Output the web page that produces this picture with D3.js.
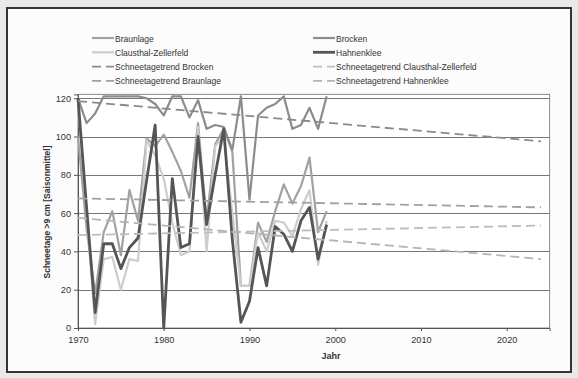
<!DOCTYPE html>
<html>
<head>
<meta charset="utf-8">
<script src="https://cdn.jsdelivr.net/npm/d3@7"></script>
<style>
  html, body { margin: 0; padding: 0; background: #e9e9e9; }
  svg { display: block; font-family: "Liberation Sans", Arial, sans-serif; }
</style>
</head>
<body>
<svg id="chart" width="578" height="378"></svg>
<script>
// Snow days above 9 cm, seasonal mean, 1970–1999
const years = d3.range(1970, 2000);

const braunlage = [100, 52, 18, 50, 61, 38, 72, 56, 99, 95, 101, 92, 82, 68, 107, 56, 96, 104, 92, 22,
                   22, 55, 45, 61, 75, 65, 74, 89, 50, 61];
const brocken   = [120, 107, 112, 121, 121, 121, 121, 121, 120, 117, 111, 121, 121, 110, 119, 104, 106, 105, 93, 121,
                   67, 111, 115, 117, 121, 104, 106, 115, 104, 121];
const clausthal = [118, 60, 2, 36, 37, 20, 36, 35, 98, 90, 78, 55, 38, 40, 105, 40, 95, 100, 60, 22,
                   22, 50, 40, 56, 55, 48, 62, 72, 33, 56];
const hahnenklee = [120, 63, 8, 44, 44, 31, 42, 47, 77, 106, 0, 78, 42, 44, 100, 54, 80, 104, 46, 3,
                    14, 42, 22, 53, 49, 40, 56, 63, 36, 54];

// Linear trend lines: value at start and end year
const trendYears = [1970, 2024];
const trendBrocken    = [118.5, 97.5];
const trendBraunlage  = [67.7, 63.0];
const trendClausthal  = [48.5, 53.5];
const trendHahnenklee = [57.5, 36.0];

const yTicks = [0, 20, 40, 60, 80, 100, 120];
const xTicks = [1970, 1980, 1990, 2000, 2010, 2020];

const series = [
  { name: "Braunlage", values: braunlage, color: "#a2a2a2", width: 2.2 },
  { name: "Brocken", values: brocken, color: "#8c8c8c", width: 2.2 },
  { name: "Clausthal-Zellerfeld", values: clausthal, color: "#cdcdcd", width: 2.2 },
  { name: "Hahnenklee", values: hahnenklee, color: "#555555", width: 2.8 }
];
const trends = [
  { name: "Schneetagetrend Brocken", values: trendBrocken, color: "#8a8a8a" },
  { name: "Schneetagetrend Braunlage", values: trendBraunlage, color: "#a0a0a0" },
  { name: "Schneetagetrend Clausthal-Zellerfeld", values: trendClausthal, color: "#bdbdbd" },
  { name: "Schneetagetrend Hahnenklee", values: trendHahnenklee, color: "#b4b4b4" }
];

const svg = d3.select("#chart");

// Chart frame
svg.append("rect").attr("x", 7).attr("y", 8).attr("width", 564).attr("height", 364)
  .attr("fill", "#fcfcfc").attr("stroke", "#333").attr("stroke-width", 2);

const x = d3.scaleLinear().domain([1970, 2025]).range([78, 549.6]);
const y = d3.scaleLinear().domain([0, 122]).range([328, 94.4]);

// Plot area
svg.append("rect").attr("x", x(1970)).attr("y", y(122))
  .attr("width", x(2025) - x(1970)).attr("height", y(0) - y(122))
  .attr("fill", "#fff").attr("stroke", "#8a8a8a").attr("stroke-width", 1);

// Horizontal gridlines
svg.append("g").selectAll("line").data(yTicks.filter(d => d > 0)).join("line")
  .attr("x1", x(1970)).attr("x2", x(2025))
  .attr("y1", d => Math.round(y(d)) + 0.5).attr("y2", d => Math.round(y(d)) + 0.5)
  .attr("stroke", "#777").attr("stroke-width", 1);

// Axes
const yAxis = d3.axisLeft(y).tickValues(yTicks).tickSize(4).tickPadding(3).tickFormat(d3.format("d"));
const gy = svg.append("g").attr("transform", `translate(${x(1970)},0)`).call(yAxis);
const xAxis = d3.axisBottom(x).tickValues(xTicks).tickSize(3).tickPadding(5).tickFormat(d3.format("d"));
const gx = svg.append("g").attr("transform", `translate(0,${y(0)})`).call(xAxis);
[gx, gy].forEach(g => {
  g.select(".domain").attr("stroke", "#555");
  g.selectAll(".tick line").attr("stroke", "#555");
  g.selectAll(".tick text").attr("fill", "#333").style("font-size", "9.2px")
    .style("font-family", "'Liberation Sans', Arial, sans-serif");
});

// Data lines
const line = d3.line().x((d, i) => x(years[i])).y(d => y(d));
svg.append("g").selectAll("path").data(series).join("path")
  .attr("d", s => line(s.values))
  .attr("fill", "none").attr("stroke", s => s.color).attr("stroke-width", s => s.width)
  .attr("stroke-linejoin", "round");

// Trend lines
const tline = d3.line().x((d, i) => x(trendYears[i])).y(d => y(d));
svg.append("g").selectAll("path").data(trends).join("path")
  .attr("d", t => tline(t.values))
  .attr("fill", "none").attr("stroke", t => t.color).attr("stroke-width", 1.8)
  .attr("stroke-dasharray", "9,5");

// Axis titles
svg.append("text").attr("x", x(1999.5)).attr("y", 359).attr("text-anchor", "middle")
  .style("font-size", "9px").style("font-weight", "bold").attr("fill", "#333").text("Jahr");
svg.append("text").attr("transform", `translate(50,212) rotate(-90)`).attr("text-anchor", "middle")
  .style("font-size", "8.5px").style("font-weight", "bold").attr("fill", "#333")
  .text("Schneetage >9 cm [Saisonmittel]");

// Legend, two columns (labels slightly condensed horizontally)
const legendItems = [
  { item: series[0], col: 0, row: 0, dash: null },
  { item: series[1], col: 1, row: 0, dash: null },
  { item: series[2], col: 0, row: 1, dash: null },
  { item: series[3], col: 1, row: 1, dash: null },
  { item: trends[0], col: 0, row: 2, dash: "9,5" },
  { item: trends[2], col: 1, row: 2, dash: "9,5" },
  { item: trends[1], col: 0, row: 3, dash: "9,5" },
  { item: trends[3], col: 1, row: 3, dash: "9,5" }
];
const colX = [92, 313];
const rowY = [38, 52.3, 66.6, 80.9];
const lg = svg.append("g").selectAll("g").data(legendItems).join("g")
  .attr("transform", d => `translate(${colX[d.col]},${rowY[d.row]})`);
lg.append("line").attr("x1", 0).attr("x2", 22).attr("y1", 0).attr("y2", 0)
  .attr("stroke", d => d.item.color).attr("stroke-width", d => d.dash ? 1.8 : d.item.width)
  .attr("stroke-dasharray", d => d.dash);
lg.append("text").attr("transform", "translate(23,3.5) scale(0.87,1)")
  .style("font-size", "9.8px").attr("fill", "#333")
  .text(d => d.item.name);
</script>
</body>
</html>
